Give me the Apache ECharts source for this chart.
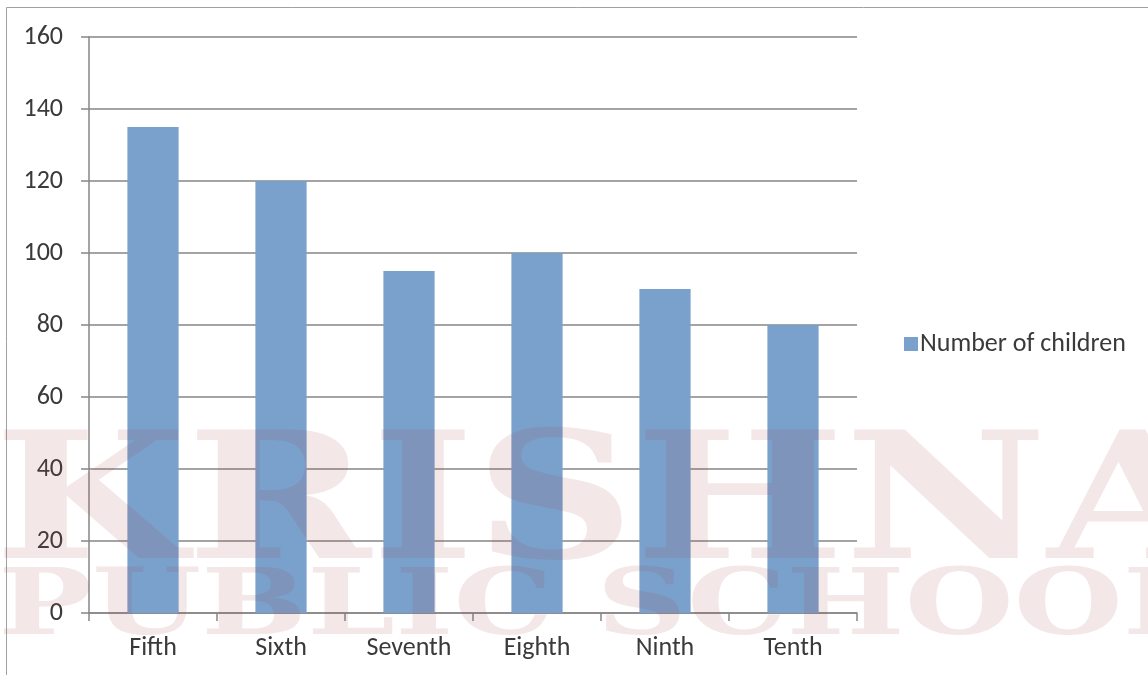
<!DOCTYPE html>
<html>
<head>
<meta charset="utf-8">
<script src="https://cdn.jsdelivr.net/npm/echarts@6/dist/echarts.min.js"></script>
<style>
  html, body { margin: 0; padding: 0; background: #ffffff; }
  #chart { width: 1148px; height: 675px; }
</style>
</head>
<body>
<div id="chart"></div>
<script>
// Classes and enrolment counts
const classes = ['Fifth', 'Sixth', 'Seventh', 'Eighth', 'Ninth', 'Tenth'];
const children = [135, 120, 95, 100, 90, 80];
const seriesName = 'Number of children';
const watermarkTop = 'KRISHNA';
const watermarkBottom = 'PUBLIC SCHOOL';

const labelFont = 'Carlito, "Open Sans", "Noto Sans", sans-serif';
const axisGray = '#868686';

const chart = echarts.init(document.getElementById('chart'), null, { renderer: 'canvas' });

chart.setOption({
  animation: false,
  backgroundColor: '#ffffff',
  grid: { left: 89, right: 291, top: 37, bottom: 62, containLabel: false },
  legend: {
    data: [seriesName],
    left: 899,
    top: 326,
    orient: 'vertical',
    icon: 'rect',
    itemWidth: 14,
    itemHeight: 14,
    itemGap: 6,
    textStyle: { color: '#3a3a3a', fontSize: 26, fontFamily: labelFont, padding: [0, 0, 0, -3] }
  },
  xAxis: {
    type: 'category',
    data: classes,
    axisLine: { lineStyle: { color: axisGray, width: 1.5 } },
    axisTick: { show: true, length: 8, lineStyle: { color: axisGray, width: 1.5 } },
    axisLabel: { color: '#3a3a3a', fontSize: 26, fontFamily: labelFont, margin: 22 }
  },
  yAxis: {
    type: 'value',
    min: 0,
    max: 160,
    interval: 20,
    axisLine: { show: true, lineStyle: { color: axisGray, width: 1.5 } },
    axisTick: { show: true, length: 8, lineStyle: { color: axisGray, width: 1.5 } },
    splitLine: { show: true, lineStyle: { color: axisGray, width: 1.5 } },
    axisLabel: { color: '#3a3a3a', fontSize: 26, fontFamily: labelFont, margin: 26 }
  },
  series: [{
    name: seriesName,
    type: 'bar',
    data: children,
    barCategoryGap: '60%',
    itemStyle: { color: '#7aa0cc' }
  }],
  graphic: [
    // outer chart frame
    {
      type: 'rect',
      shape: { x: 6.5, y: 7.5, width: 1160, height: 700 },
      style: { fill: 'none', stroke: '#a0a0a0', lineWidth: 1 },
      silent: true
    },
    // school name overlay
    {
      type: 'text',
      left: -6,
      top: 424,
      z: 100,
      silent: true,
      scaleX: 1.26,
      style: {
        text: watermarkTop,
        font: 'bold 176px "DejaVu Serif", serif',
        fill: 'rgba(160, 70, 70, 0.13)'
      }
    },
    {
      type: 'text',
      left: -2,
      top: 564,
      z: 100,
      silent: true,
      scaleX: 1.36,
      style: {
        text: watermarkBottom,
        font: 'bold 92px "DejaVu Serif", serif',
        fill: 'rgba(160, 70, 70, 0.13)'
      }
    }
  ]
});
</script>
</body>
</html>
